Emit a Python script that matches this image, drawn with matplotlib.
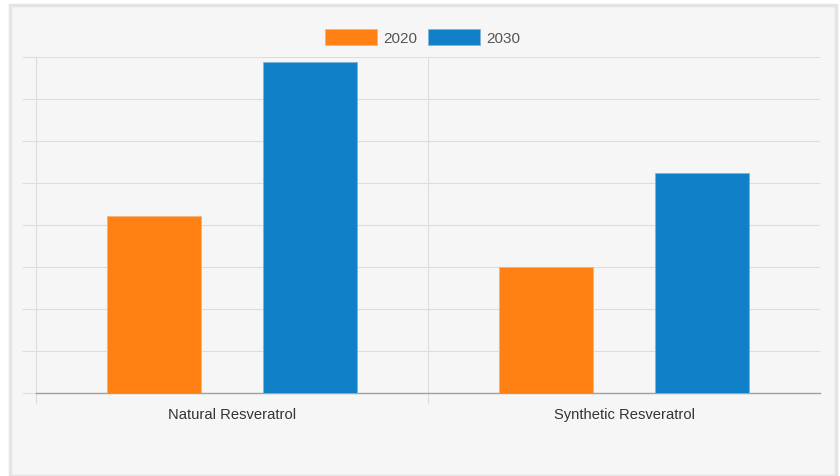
import matplotlib
matplotlib.use("Agg")
import matplotlib.pyplot as plt
import numpy as np

categories = ["Natural Resveratrol", "Synthetic Resveratrol"]
series = ["2020", "2030"]
values_2020 = [4.21, 3.0]
values_2030 = [7.88, 5.24]
colors = {"2020": "#FF8113", "2030": "#1080C9"}

W, H = 840, 477
fig = plt.figure(figsize=(W / 100, H / 100), dpi=100)
fig.patch.set_facecolor("white")
plt.rcParams["font.family"] = ["Liberation Sans", "DejaVu Sans"]

# panel background with light border
fig.patches.append(plt.Rectangle((10 / W, 0), 826 / W, 1 - 6 / H, transform=fig.transFigure,
                                 facecolor="#F6F6F6", edgecolor="#E4E4E4", lw=2.5, zorder=-5))

ax = fig.add_axes([36 / W, (H - 394) / H, (820 - 36) / W, (394 - 58) / H])
ax.set_zorder(2)
ax.set_facecolor("none")
x = np.arange(len(categories))
bw = 0.24
ax.bar(x - 0.2, values_2020, bw, color=colors["2020"], edgecolor="#F3B27A", lw=0.6, zorder=3, label="2020")
ax.bar(x + 0.2, values_2030, bw, color=colors["2030"], edgecolor="#7DB4DD", lw=0.6, zorder=3, label="2030")

ax.set_xlim(-0.5, 1.5)
ax.set_ylim(0, 8)
ax.set_yticks(np.arange(0, 9, 1))
ax.set_yticklabels([])
ax.tick_params(axis="y", length=10, color="#DDDDDD", width=0.8)
ax.set_xticks([-0.5, 0.5])
ax.set_xticklabels([])
ax.tick_params(axis="x", length=8, color="#DDDDDD", width=0.8)
ax.set_xticks(x, minor=True)
ax.set_xticklabels(categories, minor=True, fontsize=10.6, color="#333333")
ax.tick_params(axis="x", which="minor", length=0, pad=10)
ax.grid(True, color="#DDDDDD", lw=0.8, zorder=0)
for s in ["top", "right"]:
    ax.spines[s].set_visible(False)
ax.spines["left"].set_color("#DDDDDD")
ax.spines["left"].set_linewidth(0.8)
ax.spines["bottom"].set_color("#A0A0A0")
ax.spines["bottom"].set_linewidth(1.0)

ax.legend(loc="center", bbox_to_anchor=(422.5 / W, (H - 38) / H), bbox_transform=fig.transFigure,
          ncol=2, frameon=False, fontsize=11, labelcolor="#555555", handlelength=3.4,
          handleheight=1.18, handletextpad=0.4, columnspacing=0.72, borderpad=0)

fig.savefig("out.png", dpi=100, facecolor="white")
